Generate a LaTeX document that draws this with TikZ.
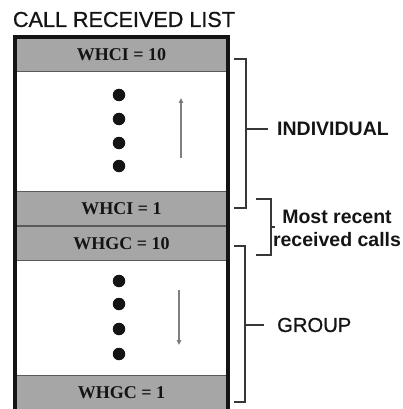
\documentclass[tikz,border=0pt]{standalone}
\usepackage{fontspec}
\setmainfont{Liberation Serif}
\setsansfont{Liberation Sans}
\newfontfamily\heavysans[FakeBold=0.8]{Liberation Sans}
\usetikzlibrary{arrows.meta}
\definecolor{BandGray}{HTML}{A6A6A6}
\definecolor{Ink}{HTML}{141414}

\begin{document}
\begin{tikzpicture}[x=1pt,y=-1pt,band/.style={draw=Ink!70,line width=0.8pt,fill=BandGray,minimum width=213pt,minimum height=34.5pt,inner sep=0pt,font=\bfseries\fontsize{18}{20}\selectfont,text=Ink},dot/.style={circle,fill=Ink,inner sep=0pt,minimum size=12.5pt},flow/.style={-{Triangle[length=5pt,width=4.5pt,fill=Ink]},draw=gray,line width=1.2pt},brace/.style={draw=Ink!85,line width=1.5pt},side/.style={font=\sffamily\fontsize{19.5}{23}\selectfont,text=Ink,inner sep=0pt}]
\useasboundingbox (0,0) rectangle (402,409);
\clip (0,0) rectangle (402,409);

\node[font=\heavysans\fontsize{21.6}{24}\selectfont,text=Ink,inner sep=0pt] (title) at (124,19.5) {CALL RECEIVED LIST};
\node[band] (ci10) at (121.5,54.5) {WHCI = 10}; \node[band] (ci1) at (121.5,208.5) {WHCI = 1}; \node[band] (gc10) at (121.5,243.5) {WHGC = 10}; \node[band] (gc1) at (121.5,392.5) {WHGC = 1};
\draw[Ink,line width=3.5pt] (15,37) rectangle (228,414);

\node[dot] (ci-a) at (119,95) {}; \node[dot] (ci-b) at (119,119) {}; \node[dot] (ci-c) at (119,143) {}; \node[dot] (ci-d) at (119,166) {};
\node[dot] (gc-a) at (119,281) {}; \node[dot] (gc-b) at (119,304) {}; \node[dot] (gc-c) at (119,329) {}; \node[dot] (gc-d) at (119,354) {};
\coordinate (upfrom) at (181,158); \coordinate (upto) at (181,98); \draw[flow] (upfrom)--(upto);
\coordinate (downfrom) at (179,290); \coordinate (downto) at (179,345); \draw[flow] (downfrom)--(downto);

\node[side,font=\sffamily\bfseries\fontsize{19.5}{23}\selectfont,anchor=west] (indiv) at (277,129) {INDIVIDUAL};
\node[side,font=\sffamily\bfseries\fontsize{19.5}{23}\selectfont,align=center,anchor=north] (recent) at (337,210) {Most recent\\received calls};
\node[side,font=\heavysans\fontsize{20.2}{23}\selectfont,anchor=west] (group) at (277,325) {GROUP};
\coordinate (it) at (234,59); \coordinate (ib) at (234,208); \coordinate (im) at (246,129);
\draw[brace] (it)-|(im)|-(ib); \draw[brace,shorten >=9pt] (im)--(indiv.west);
\coordinate (rt) at (256,199); \coordinate (rb) at (256,255); \coordinate (rm) at (271,227);
\draw[brace] (rt)-|(rm)|-(rb); \draw[brace] (rm)--++(4,0);
\coordinate (gt) at (234,246); \coordinate (gb) at (234,402); \coordinate (gm) at (245,325);
\draw[brace] (gt)-|(gm)|-(gb); \draw[brace,shorten >=13pt] (gm)--(group.west);

\end{tikzpicture}
\end{document}
